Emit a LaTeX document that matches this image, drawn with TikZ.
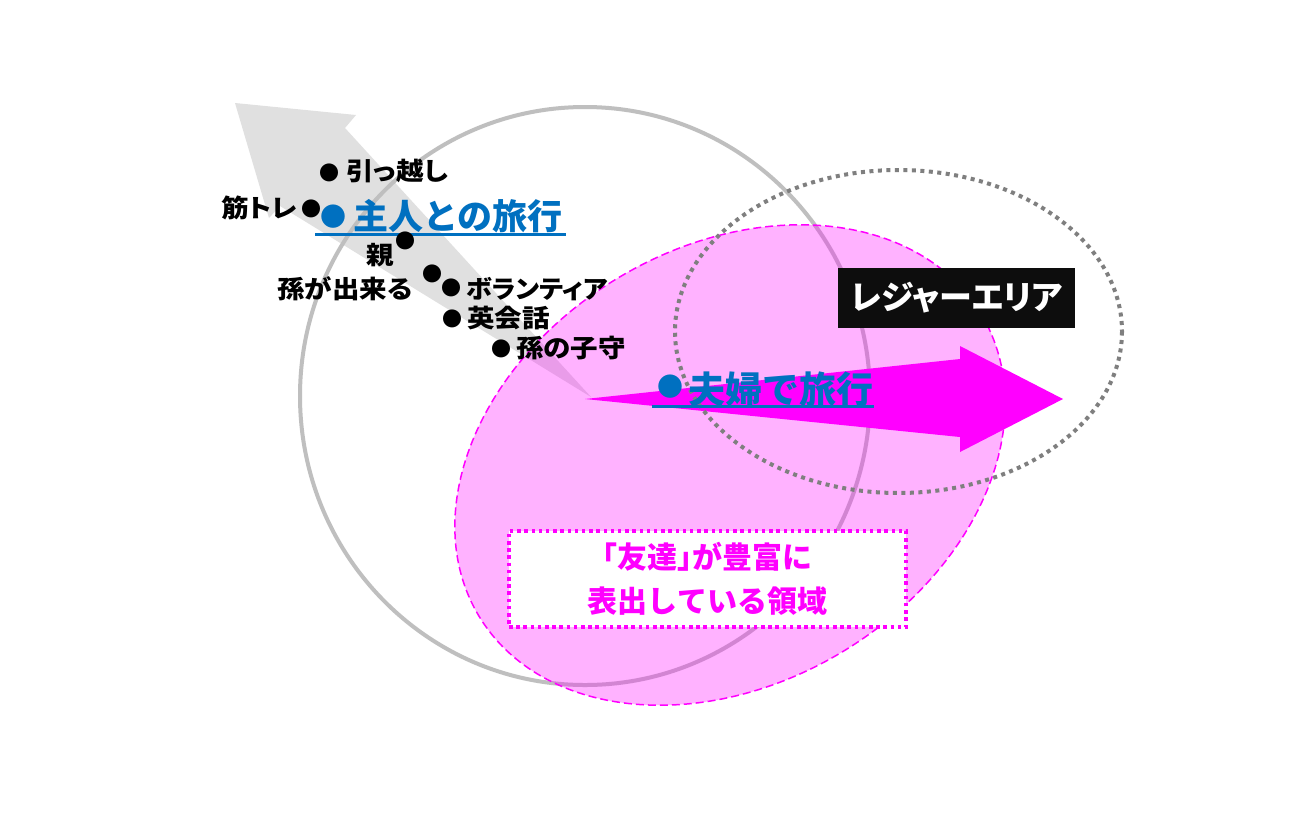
\documentclass[tikz,border=0pt]{standalone}
\usepackage{fontspec}
\setmainfont{Noto Sans CJK JP}
\newfontfamily\jpl{Noto Sans CJK JP}[FakeStretch=1.1,RawFeature=+palt]
\newfontfamily\jpb{Noto Sans CJK JP}
\newfontfamily\jpk{Noto Sans CJK JP}[RawFeature=+palt]
\definecolor{arrowgray}{RGB}{224,224,224}
\definecolor{circgray}{RGB}{191,191,191}
\definecolor{dotgray}{RGB}{127,127,127}
\definecolor{mag}{RGB}{255,0,255}
\definecolor{bluet}{RGB}{0,112,192}
\definecolor{boxblack}{RGB}{13,13,13}
\tikzset{
  lbl/.style={inner sep=0pt, anchor=west, text=black, font=\jpl\bfseries\fontsize{25}{30}\selectfont},
  blt/.style={inner sep=0pt, anchor=center, text=black, font=\jpb\bfseries\fontsize{20}{24}\selectfont},
  bblt/.style={inner sep=0pt, anchor=center, text=bluet, font=\jpb\bfseries\fontsize{26}{30}\selectfont},
  bluetxt/.style={inner sep=0pt, anchor=west, text=bluet, font=\jpb\bfseries\fontsize{#1}{#1}\selectfont},
  ul/.style={draw=bluet, line width=3pt},
  pinkreg/.style={fill=mag, fill opacity=0.3, draw=mag, draw opacity=1, line width=1.5pt, dash pattern=on 8pt off 4pt},
}
\begin{document}
\begin{tikzpicture}[x=1pt,y=-1pt]
\useasboundingbox (0,0) rectangle (1300,815);
\fill[white] (0,0) rectangle (1300,815);
% grey arrow
\fill[arrowgray] (591,397) -- (345,128) -- (356,115) -- (235,103) -- (269,218) -- (280,206) -- cycle;
% grey circle
\draw[circgray, line width=4pt] (585,396) ellipse [x radius=285, y radius=289];
% pink region
\begin{scope}[shift={(730,465)}, rotate=31]
\path[pinkreg] (0,0) ellipse [x radius=293, y radius=218];
\end{scope}
% magenta arrow
\fill[mag] (585,399) -- (960,359) -- (960,346) -- (1063,399) -- (960,452) -- (960,437) -- cycle;
% dotted leisure ellipse
\draw[dotgray, line width=4pt, dash pattern=on 4pt off 4.5pt] (898.5,331.5) ellipse [x radius=223.5, y radius=161.5];
% leisure box
\node[fill=boxblack, minimum width=237pt, minimum height=60pt, inner sep=0pt, text=white,
      font=\jpk\bfseries\fontsize{33}{38}\selectfont] (lz) at (956.5,298) {レジャーエリア};
% friends box
\node[fill=white, draw=mag, line width=3.5pt, dash pattern=on 3.5pt off 3.7pt,
      minimum width=397pt, minimum height=96pt, inner sep=0pt, align=center, text=mag,
      font=\jpb\bfseries\fontsize{30}{44}\selectfont] (fb) at (707.5,579) {{\jpk\bfseries 「}友達{\jpk\bfseries 」}が豊富に\\表出している領域};
% labels
\node[blt] (d1) at (329,173) {●};
\node[lbl] (t1) at (346,171) {引っ越し};
\node[lbl] (t2) at (221,208) {筋トレ};
\node[blt] (d2) at (311,209) {●};
\node[bblt] (d3) at (333.5,217) {●};
\node[bluetxt=35] (t3) at (353,216) {主人との旅行};
\draw[ul] (315,234.5) -- (566,234.5);
\node[blt] (d4) at (405,241) {●};
\node[lbl] (t4) at (366,255) {親};
\node[blt] (d5) at (432,274) {●};
\node[lbl] (t5) at (277,288.5) {孫が出来る};
\node[blt] (d6) at (451,288) {●};
\node[lbl, xscale=0.95] (t6) at (466,289) {ボランティア};
\node[blt] (d7) at (452,319) {●};
\node[lbl] (t7) at (467,318.5) {英会話};
\node[blt] (d8) at (501,349) {●};
\node[lbl] (t8) at (516,348.5) {孫の子守};
\node[bblt] (d9) at (670,387) {●};
\node[bluetxt=37] (t9) at (688,389) {夫婦で旅行};
\draw[ul] (652,406) -- (874,406);
\end{tikzpicture}
\end{document}
